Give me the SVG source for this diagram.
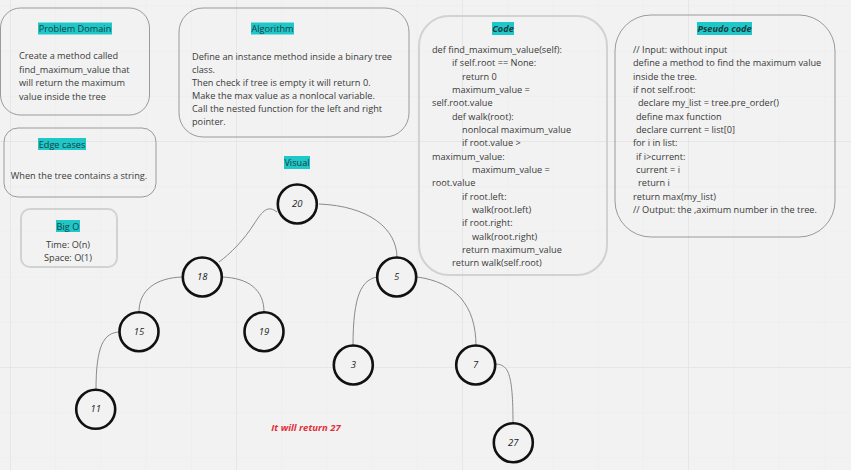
<svg xmlns="http://www.w3.org/2000/svg" width="851" height="470" viewBox="0 0 851 470">
<defs>
<pattern id="minor" x="10" y="5.4" width="45.2" height="45.2" patternUnits="userSpaceOnUse">
<path d="M0 0V45.2M0 0H45.2" fill="none" stroke="#ececec" stroke-width="1"/>
</pattern>
<pattern id="major" x="10" y="141" width="226" height="226" patternUnits="userSpaceOnUse">
<path d="M0 0V226M0 0H226" fill="none" stroke="#e3e3e3" stroke-width="1.5"/>
</pattern>
</defs>
<style>
text{font-family:"Open Sans","Noto Sans","Liberation Sans",sans-serif;font-size:9.2px;fill:#3a3a3a}
.t{text-anchor:middle;fill:#1d3b40}
.ti{font-style:italic;font-weight:bold}
.hl{fill:#1ec8c8}
.box{fill:none;stroke:#9a9a9a;stroke-width:1}
.boxl{fill:none;stroke:#d2d2d2;stroke-width:2}
.node circle{fill:#f2f2f2;stroke:#111;stroke-width:2.6}
.node text{text-anchor:middle;font-style:italic;font-size:9.5px;fill:#222}
.edge{fill:none;stroke:#8a8a8a;stroke-width:1}
.red{fill:#e0303a;font-weight:bold;font-style:italic;font-size:9.5px;text-anchor:middle}
</style>
<rect width="851" height="470" fill="#f2f2f2"/>
<rect width="851" height="470" fill="url(#minor)"/>
<rect width="851" height="470" fill="url(#major)"/>

<g id="problem-domain">
<rect class="box" x="0.5" y="8" width="149" height="107" rx="20"/>
<rect class="hl" x="38" y="22.5" width="74" height="12"/>
<text class="t" x="75" y="32">Problem Domain</text>
<text x="19" y="59">Create a method called</text>
<text x="19" y="72.5">find_maximum_value that</text>
<text x="19" y="86">will return the maximum</text>
<text x="19" y="99.5">value inside the tree</text>
</g>

<g id="algorithm">
<rect class="box" x="179" y="8" width="230" height="129" rx="24"/>
<rect class="hl" x="251" y="22.5" width="43" height="12"/>
<text class="t" x="272.5" y="32">Algorithm</text>
<text x="192" y="60">Define an instance method inside a binary tree</text>
<text x="192" y="73">class.</text>
<text x="192" y="86">Then check if tree is empty it will return 0.</text>
<text x="192" y="99">Make the max value as a nonlocal variable.</text>
<text x="192" y="112">Call the nested function for the left and right</text>
<text x="192" y="125">pointer.</text>
</g>

<g id="edge-cases">
<rect class="box" x="4" y="128" width="152" height="69" rx="14"/>
<rect class="hl" x="38" y="138" width="48" height="12"/>
<text class="t" x="62" y="147.5">Edge cases</text>
<text x="79" y="179" text-anchor="middle">When the tree contains a string.</text>
</g>

<g id="big-o">
<rect class="boxl" x="21" y="209" width="96" height="58" rx="9"/>
<rect class="hl" x="56" y="220" width="24" height="12"/>
<text class="t" x="68" y="229.5">Big O</text>
<text x="68" y="248" text-anchor="middle">Time: O(n)</text>
<text x="68" y="261" text-anchor="middle">Space: O(1)</text>
</g>

<g id="code">
<rect class="boxl" x="419" y="16" width="188" height="259" rx="30"/>
<rect class="hl" x="492" y="22" width="22" height="13"/>
<text class="t ti" x="503" y="32">Code</text>
<text x="432" y="53">def find_maximum_value(self):</text>
<text x="452" y="66">if self.root == None:</text>
<text x="462" y="80">return 0</text>
<text x="452" y="93">maximum_value =</text>
<text x="432" y="106">self.root.value</text>
<text x="452" y="120">def walk(root):</text>
<text x="462" y="133">nonlocal maximum_value</text>
<text x="462" y="146">if root.value &gt;</text>
<text x="432" y="160">maximum_value:</text>
<text x="472" y="173">maximum_value =</text>
<text x="432" y="186">root.value</text>
<text x="462" y="200">if root.left:</text>
<text x="472" y="213">walk(root.left)</text>
<text x="462" y="226">if root.right:</text>
<text x="472" y="240">walk(root.right)</text>
<text x="462" y="253">return maximum_value</text>
<text x="452" y="266">return walk(self.root)</text>
</g>

<g id="pseudo-code">
<rect class="box" x="615" y="15" width="220" height="222" rx="36"/>
<rect class="hl" x="697" y="22" width="55" height="13"/>
<text class="t ti" x="724.5" y="32">Pseudo code</text>
<text x="633" y="53">// Input: without input</text>
<text x="633" y="66">define a method to find the maximum value</text>
<text x="633" y="80">inside the tree.</text>
<text x="633" y="93">if not self.root:</text>
<text x="638" y="106">declare my_list = tree.pre_order()</text>
<text x="636" y="120">define max function</text>
<text x="636" y="133">declare current = list[0]</text>
<text x="633" y="146">for i in list:</text>
<text x="636" y="160">if i&gt;current:</text>
<text x="636" y="173">current = i</text>
<text x="638" y="186">return i</text>
<text x="633" y="200">return max(my_list)</text>
<text x="633" y="213">// Output: the ,aximum number in the tree.</text>
</g>

<g id="visual-label">
<rect class="hl" x="284" y="156" width="26" height="13"/>
<text class="t" x="297" y="165.5">Visual</text>
</g>

<g id="connectors">
<path class="edge" d="M277,212 C268,205 263,210 254,224 C244,240 230,254 219,262"/>
<path class="edge" d="M319,204 C368,206 397,228 397,258"/>
<path class="edge" d="M182,277 C156,278 139,290 139,312"/>
<path class="edge" d="M222,277 C249,278 264,290 264,312"/>
<path class="edge" d="M377,277 C362,280 353,294 353,346"/>
<path class="edge" d="M417,277 C455,282 476,305 476,346"/>
<path class="edge" d="M119,332 C104,333 96,345 96,390"/>
<path class="edge" d="M496,364 C508,365 513,372 513,424"/>
</g>

<g id="node-20" class="node"><circle cx="297.3" cy="204" r="19.5"/><text x="297.3" y="207">20</text></g>
<g id="node-18" class="node"><circle cx="202.3" cy="277" r="19.5"/><text x="202.3" y="280">18</text></g>
<g id="node-5" class="node"><circle cx="396.7" cy="277" r="19.5"/><text x="396.7" y="280">5</text></g>
<g id="node-15" class="node"><circle cx="139" cy="331.7" r="19.5"/><text x="139" y="334.7">15</text></g>
<g id="node-19" class="node"><circle cx="264" cy="331.7" r="19.5"/><text x="264" y="334.7">19</text></g>
<g id="node-3" class="node"><circle cx="353.3" cy="365" r="19.5"/><text x="353.3" y="368">3</text></g>
<g id="node-7" class="node"><circle cx="475.7" cy="365" r="19.5"/><text x="475.7" y="368">7</text></g>
<g id="node-11" class="node"><circle cx="95.7" cy="409.3" r="19.5"/><text x="95.7" y="412.3">11</text></g>
<g id="node-27" class="node"><circle cx="513.3" cy="442.7" r="19.5"/><text x="513.3" y="445.7">27</text></g>

<text class="red" x="306" y="430.5">It will return 27</text>
</svg>
